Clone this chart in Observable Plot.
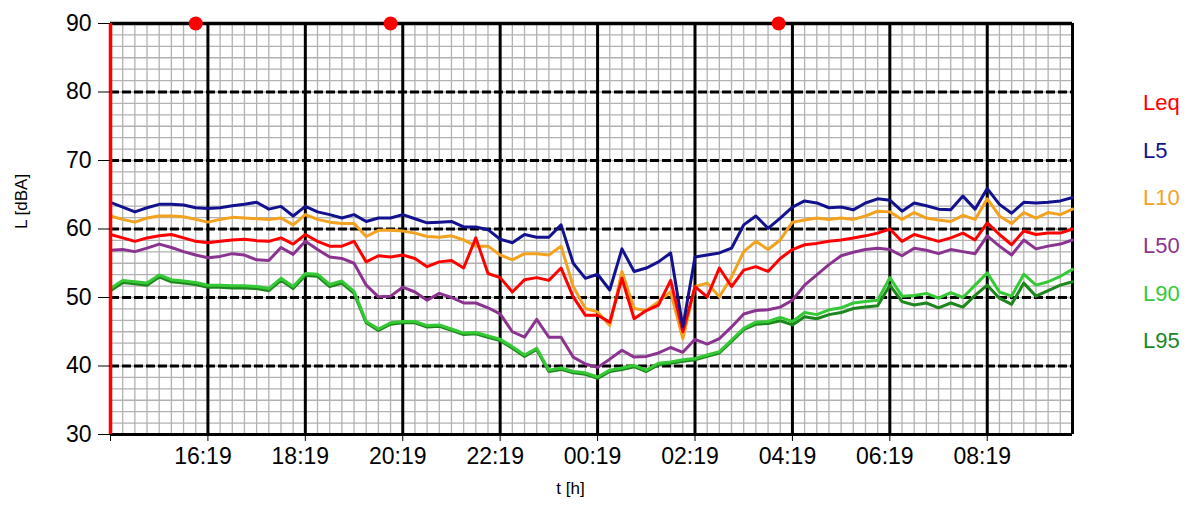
<!DOCTYPE html>
<html>
<head>
<meta charset="utf-8">
<script src="https://cdn.jsdelivr.net/npm/d3@7"></script>
<script src="https://cdn.jsdelivr.net/npm/@observablehq/plot@0.6"></script>
<style>
  html, body { margin: 0; padding: 0; background: #fff; }
  #wrap { position: relative; width: 1200px; height: 506px; font-family: "Liberation Sans", Arial, sans-serif; }
  #legend { position: absolute; left: 1143px; top: 79px; font-size: 22px; }
  #legend div { height: 47.7px; line-height: 47.7px; }
</style>
</head>
<body>
<div id="wrap"><div id="chart"></div><div id="legend"></div></div>
<script>
// Sampling: first sample at 14:19, every 15 minutes (80 samples)
const startLabel = "14:19";
const stepMinutes = 15;
const majorTickLabels = ["16:19","18:19","20:19","22:19","00:19","02:19","04:19","06:19","08:19"];
const yTicks = [30, 40, 50, 60, 70, 80, 90];
const markerLabels = ["16:04", "20:04", "04:02"];

const seriesNames = ["Leq", "L5", "L10", "L50", "L90", "L95"];
const seriesColors = ["#ff0000", "#12128f", "#f2a21e", "#8b3391", "#35c935", "#1d871d"];

const Leq = [59.2,58.7,58.2,58.7,59.0,59.2,58.7,58.2,58.0,58.2,58.4,58.5,58.3,58.2,58.7,57.8,59.2,58.2,57.5,57.5,
  58.2,55.2,56.1,55.9,56.2,55.7,54.5,55.2,55.4,54.3,58.7,53.5,52.9,50.8,52.6,52.9,52.5,54.3,50.1,47.4,
  47.4,46.4,52.8,46.9,48.1,48.9,52.5,45.0,51.6,50.1,54.3,51.6,54.0,54.5,53.8,55.7,57.0,57.7,57.9,58.2,
  58.4,58.7,59.0,59.4,60.0,58.2,59.2,58.7,58.2,58.7,59.4,58.4,60.9,59.2,57.7,59.7,59.2,59.4,59.4,60.0];
const L5 = [63.9,63.2,62.5,63.1,63.6,63.6,63.5,63.1,63.0,63.1,63.4,63.6,63.9,62.9,63.3,61.9,63.3,62.5,62.1,61.6,
  62.1,61.1,61.6,61.6,62.1,61.5,60.9,61.0,61.1,60.3,60.3,59.9,58.5,58.0,59.2,58.8,58.8,60.6,55.0,52.8,
  53.4,51.1,57.1,53.8,54.3,55.2,56.5,45.7,55.9,56.2,56.5,57.2,60.6,61.9,60.1,61.6,63.2,64.1,63.8,63.1,
  63.2,62.8,63.8,64.4,64.2,62.6,63.8,63.4,62.9,62.8,64.8,62.9,65.9,63.6,62.3,63.9,63.8,63.9,64.1,64.6];
const L10 = [61.9,61.4,61.0,61.6,61.9,61.9,61.8,61.4,61.0,61.4,61.7,61.6,61.5,61.4,61.6,60.6,62.1,61.4,61.0,60.8,
  60.8,58.9,59.8,59.8,59.7,59.4,58.9,58.8,59.0,58.4,57.5,57.5,56.2,55.5,56.4,56.4,56.2,57.5,51.6,48.4,
  47.9,45.9,53.8,48.4,48.1,49.4,50.8,44.0,51.6,52.1,50.1,53.0,56.7,58.2,57.0,58.4,61.0,61.3,61.6,61.4,
  61.6,61.4,61.9,62.6,62.5,61.4,62.4,61.6,61.3,61.1,62.0,61.4,64.4,61.9,60.8,62.4,61.6,62.4,62.1,62.9];
const L50 = [56.9,57.0,56.7,57.2,57.8,57.3,56.7,56.2,55.8,56.0,56.4,56.2,55.5,55.4,57.3,56.3,58.2,57.0,55.9,55.7,
  55.0,51.8,50.1,50.2,51.5,50.8,49.6,50.6,50.0,49.2,49.2,48.5,47.6,45.0,44.2,46.8,44.2,44.2,41.3,40.3,
  39.8,41.0,42.3,41.3,41.4,41.9,42.7,42.0,43.9,43.2,44.0,45.7,47.6,48.1,48.2,48.6,49.6,51.8,53.3,54.8,
  56.1,56.6,57.0,57.2,57.0,56.1,57.2,56.9,56.4,57.0,56.7,56.4,59.0,57.5,56.2,58.4,57.1,57.5,57.8,58.4];
const L90 = [51.3,52.5,52.3,52.1,53.3,52.6,52.4,52.2,51.8,51.8,51.7,51.7,51.6,51.3,52.8,51.6,53.5,53.4,51.9,52.4,
  50.9,46.5,45.4,46.3,46.5,46.5,45.9,46.0,45.4,44.8,44.9,44.4,43.9,42.8,41.6,42.6,39.4,39.7,39.2,39.0,
  38.4,39.4,39.7,40.1,39.4,40.4,40.6,40.9,41.1,41.6,42.1,43.8,45.5,46.4,46.5,47.1,46.5,47.8,47.5,48.2,
  48.5,49.2,49.4,49.6,52.9,50.2,50.3,50.6,49.9,50.7,50.0,51.8,53.6,50.8,50.2,53.4,51.8,52.3,53.1,54.1];
const L95 = [51.0,52.2,52.0,51.8,53.0,52.3,52.1,51.9,51.5,51.5,51.4,51.4,51.3,51.0,52.5,51.3,53.2,53.1,51.6,52.1,
  50.6,46.3,45.2,46.1,46.3,46.3,45.7,45.8,45.2,44.6,44.7,44.2,43.7,42.6,41.4,42.4,39.2,39.5,39.0,38.8,
  38.2,39.2,39.5,39.9,39.2,40.2,40.4,40.7,40.9,41.4,41.9,43.6,45.3,46.1,46.2,46.6,46.0,47.2,46.9,47.5,
  47.8,48.4,48.6,48.8,51.8,49.4,48.9,49.2,48.5,49.2,48.6,50.3,51.8,49.9,49.0,52.1,50.2,51.0,51.8,52.3];

// ---- build time values ----
const [sh, sm] = startLabel.split(":").map(Number);
const start = Date.UTC(2020, 0, 1, sh, sm);
function labelToDate(lbl) {
  const [h, m] = lbl.split(":").map(Number);
  let t = Date.UTC(2020, 0, 1, h, m);
  if (t < start) t += 24 * 3600 * 1000;
  return new Date(t);
}
const times = Leq.map((_, i) => new Date(start + i * stepMinutes * 60000));
const endTime = times[times.length - 1];
const majorTimes = majorTickLabels.map(labelToDate);
const markerTimes = markerLabels.map(labelToDate);
const minorY = d3.range(30, 90.001, 10 / 6);

const allSeries = [Leq, L5, L10, L50, L90, L95];
const rows = allSeries.map((arr, k) => arr.map((v, i) => ({t: times[i], v, s: seriesNames[k]})));
const fmt = d3.utcFormat("%H:%M");

const drawOrder = [5, 4, 3, 2, 0, 1];

const chart = Plot.plot({
  width: 1200,
  height: 506,
  marginLeft: 110,
  marginRight: 128,
  marginTop: 23,
  marginBottom: 72,
  style: {fontFamily: "'Liberation Sans', Arial, sans-serif", fontSize: "22px", background: "#fff", color: "#000"},
  x: {type: "utc", domain: [times[0], endTime]},
  y: {domain: [30, 90]},
  marks: [
    Plot.ruleX(times, {stroke: "#b2b2b2", strokeWidth: 1.3}),
    Plot.ruleY(minorY, {stroke: "#b2b2b2", strokeWidth: 1.3}),
    Plot.ruleY(yTicks.filter(v => v > 30 && v < 90), {stroke: "#000", strokeWidth: 3, strokeDasharray: "9,3"}),
    Plot.ruleX(majorTimes, {stroke: "#000", strokeWidth: 3}),
    Plot.ruleY([30], {stroke: "#000", strokeWidth: 3}),
    Plot.ruleY([90], {stroke: "#000", strokeWidth: 3.5}),
    Plot.ruleX([endTime], {stroke: "#000", strokeWidth: 3}),
    ...drawOrder.map(k => Plot.line(rows[k], {x: "t", y: "v", stroke: seriesColors[k], strokeWidth: 3, strokeLinejoin: "round"})),
    Plot.ruleX([times[0]], {stroke: "#ff0000", strokeWidth: 3.5}),
    Plot.dot(markerTimes, {x: d => d, y: () => 90, r: 7, fill: "#ff0000", stroke: null}),
    Plot.axisY({ticks: yTicks, tickSize: 12, tickPadding: 7, label: null, fontSize: 23}),
    // tick marks only
    Plot.axisX({ticks: [times[0], ...majorTimes], tickFormat: () => "", tickSize: 7, label: null}),
    // labels only, nudged left like the original
    Plot.axisX({ticks: majorTimes, tickFormat: fmt, tickSize: 0, tickPadding: 13, label: null, fontSize: 23, dx: -5}),
    Plot.text(["L [dBA]"], {text: d => d, frameAnchor: "left", dx: -89, rotate: -90, fontSize: 17, fill: "#000"}),
    Plot.text(["t [h]"], {text: d => d, frameAnchor: "bottom", dx: -21, dy: 59, fontSize: 17, fill: "#000"})
  ]
});
document.getElementById("chart").appendChild(chart);

const legend = document.getElementById("legend");
seriesNames.forEach((n, k) => {
  const d = document.createElement("div");
  d.textContent = n;
  d.style.color = seriesColors[k];
  legend.appendChild(d);
});
</script>
</body>
</html>
